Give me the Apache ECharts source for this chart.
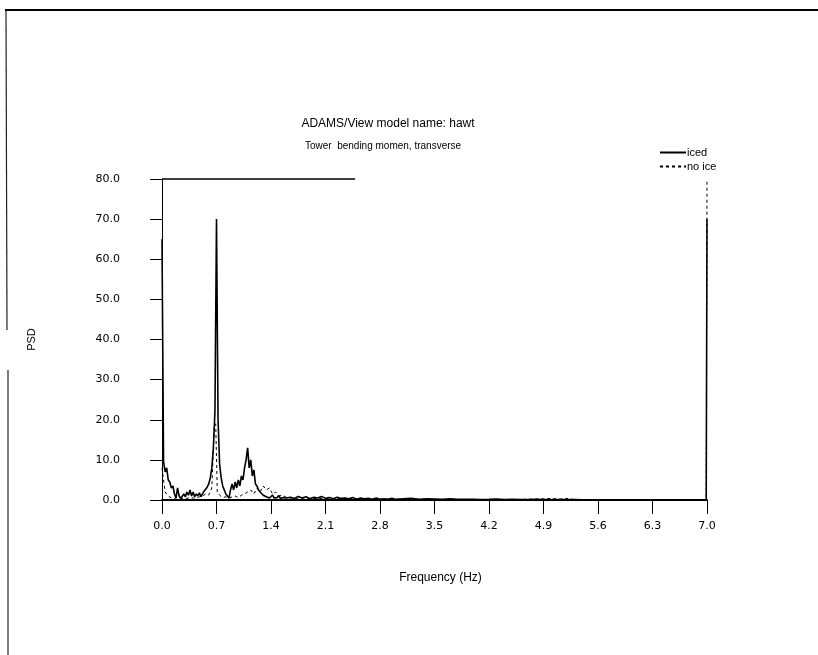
<!DOCTYPE html>
<html>
<head>
<meta charset="utf-8">
<script src="https://cdn.jsdelivr.net/npm/echarts@6/dist/echarts.min.js"></script>
<style>
html,body{margin:0;padding:0;background:#fff;}
#chart{width:818px;height:655px;}
</style>
</head>
<body>
<div id="chart"></div>
<script>
// ---- data ----
const xTicks = ['0.0','0.7','1.4','2.1','2.8','3.5','4.2','4.9','5.6','6.3','7.0'];
const yTicks = ['0.0','10.0','20.0','30.0','40.0','50.0','60.0','70.0','80.0'];

const icedFreq = [
  0.00,0.02,0.04,0.06,0.08,0.10,0.12,0.14,0.16,0.18,0.20,0.22,0.24,0.26,0.28,0.30,0.32,0.34,0.36,0.38,
  0.40,0.42,0.44,0.46,0.48,0.50,0.52,0.54,0.56,0.58,0.60,0.62,0.64,0.66,0.68,0.70,0.72,0.74,0.76,0.78,
  0.80,0.82,0.84,0.86,0.88,0.90,0.92,0.94,0.96,0.98,1.00,1.02,1.04,1.06,1.08,1.10,1.12,1.14,1.16,1.18,
  1.20,1.22,1.24,1.26,1.28,1.30,1.32,1.34,1.36,1.38,1.40,1.42,1.44,1.46,1.48,1.50,1.52,1.54,1.56,1.58,1.60,
  1.65,1.70,1.75,1.80,1.85,1.90,1.95,2.00,2.05,2.10,2.15,2.20,2.25,2.30,2.35,2.40,2.45,2.50,2.55,2.60,
  2.65,2.70,2.75,2.80,2.85,2.90,2.95,3.00,
  3.1,3.2,3.3,3.4,3.5,3.6,3.7,3.8,3.9,4.0,4.1,4.2,4.3,4.4,4.5,4.6,4.7,4.8,4.9,5.0,
  5.1,5.2,5.3,5.4,5.5,5.6,5.7,5.8,5.9,6.0,6.1,6.2,6.3,6.4,6.5,6.6,6.7,6.8,6.9,6.99,7.0
];
const icedPsd = [
  65,9.5,7,8,5,4.5,3,3.5,1.5,0.5,3,1,0.4,0.8,1.5,0.8,2,1.2,2.5,1,
  2,0.8,1.5,1,1.8,0.8,1.5,2.2,2.5,3.2,4,5.5,8,13,22,70,20,9,5.5,3.5,
  2.5,1.5,1,0.5,2.5,4,2.5,4.5,3,5,3.5,6,5,8,10,13,8,10,6,7.5,
  4,3.5,2.5,2,1.8,1.2,1.5,0.8,1,0.5,0.8,1.2,0.5,0.9,0.6,1.1,0.4,0.8,0.6,1.0,0.5,
  0.7,0.4,0.9,0.5,0.8,0.3,0.7,0.5,0.9,0.4,0.6,0.3,0.7,0.4,0.5,0.3,0.6,0.2,0.5,0.3,
  0.4,0.2,0.5,0.2,0.3,0.2,0.4,0.2,
  0.3,0.4,0.2,0.3,0.25,0.15,0.3,0.2,0.15,0.2,0.1,0.15,0.25,0.1,0.15,0.1,0.1,0.15,0.1,0.1,
  0.1,0.1,0.1,0.05,0.05,0.05,0.05,0.05,0.05,0.05,0.05,0.05,0.05,0.05,0.05,0.05,0.05,0.05,0.05,0.05,70
];

const noIceFreq = [
  0.00,0.04,0.08,0.12,0.16,0.20,0.24,0.28,0.32,0.36,0.40,0.44,0.48,0.52,0.56,0.60,0.64,0.67,0.69,0.71,
  0.74,0.78,0.82,0.86,0.90,0.94,0.98,1.02,1.06,1.10,1.14,1.18,1.22,1.26,1.30,1.34,1.38,1.42,1.46,1.50,
  1.55,1.60,1.7,1.8,1.9,2.0,2.2,2.4,2.6,2.8,3.0,3.5,4.0,4.5,4.9,5.0,5.1,5.2,5.3,5.5,6.0,6.5,6.99,7.0
];
const noIcePsd = [
  8,2,1,0.5,0.4,0.6,0.3,0.5,0.4,0.6,0.5,0.4,0.8,1.0,1.5,1.2,3,18,19,2,
  1.2,0.6,0.8,0.4,0.8,1.0,0.6,1.2,1.5,2,2.5,1.5,3,2,3.5,2.5,3,1.5,2,1,
  1.2,0.6,0.4,0.5,0.3,0.4,0.3,0.3,0.2,0.2,0.2,0.1,0.1,0.1,0.3,0.4,0.2,0.4,0.1,0.1,0.1,0.1,0.1,80
];

const seriesNames = ['iced','no ice'];
const titleText = 'ADAMS/View model name: hawt';
const subText = 'Tower  bending momen, transverse';

// ---- chart ----
const zip = (a, b) => a.map((v, i) => [v, b[i]]);
const chart = echarts.init(document.getElementById('chart'), null, {renderer: 'canvas'});
const font = 'Liberation Sans, Arial, sans-serif';
const tickFont = 'DejaVu Sans, sans-serif';

chart.setOption({
  animation: false,
  backgroundColor: '#fff',
  title: [
    {text: titleText, left: 383, top: 113, textAlign: 'center',
     textStyle: {fontSize: 12, fontWeight: 'normal', color: '#000', fontFamily: font}},
    {text: subText, left: 378, top: 136, textAlign: 'center',
     textStyle: {fontSize: 10, fontWeight: 'normal', color: '#000', fontFamily: font}}
  ],
  legend: {
    data: seriesNames,
    orient: 'vertical',
    left: 654, top: 142,
    itemWidth: 26, itemHeight: 8, itemGap: 3,
    itemStyle: {opacity: 0},
    textStyle: {fontSize: 11, color: '#000', fontFamily: font, padding: [0,0,0,-4]}
  },
  grid: {left: 162, right: 111, top: 179, bottom: 155},
  xAxis: {
    type: 'value', min: 0, max: 7, interval: 0.7,
    name: 'Frequency (Hz)', nameLocation: 'middle', nameGap: 72,
    nameTextStyle: {fontSize: 12, color: '#000', fontFamily: font, padding: [0,0,0,12]},
    axisLine: {show: true, lineStyle: {color: '#000', width: 2}},
    axisTick: {show: true, length: 14, lineStyle: {color: '#000', width: 1}},
    axisLabel: {fontSize: 11, color: '#000', fontFamily: tickFont, margin: 21,
      formatter: (v) => xTicks[Math.round(v / 0.7)] || v.toFixed(1)},
    splitLine: {show: false}
  },
  yAxis: {
    type: 'value', min: 0, max: 80, interval: 10,
    name: 'PSD', nameLocation: 'middle', nameGap: 125,
    nameTextStyle: {fontSize: 11, color: '#000', fontFamily: font},
    axisLine: {show: true, lineStyle: {color: '#000', width: 1}},
    axisTick: {show: true, length: 12, lineStyle: {color: '#000', width: 1}},
    axisLabel: {fontSize: 11, color: '#000', fontFamily: tickFont, margin: 42,
      formatter: (v) => yTicks[Math.round(v / 10)]},
    splitLine: {show: false}
  },
  series: [
    {
      name: seriesNames[1], type: 'line', symbol: 'none', showSymbol: false,
      data: zip(noIceFreq, noIcePsd),
      lineStyle: {color: '#000', width: 1, type: [3, 3]},
      itemStyle: {color: '#000'}, z: 2
    },
    {
      name: seriesNames[0], type: 'line', symbol: 'none', showSymbol: false,
      data: zip(icedFreq, icedPsd),
      lineStyle: {color: '#000', width: 1.6},
      itemStyle: {color: '#000'}, z: 3,
      markLine: {
        silent: true, symbol: 'none', label: {show: false},
        lineStyle: {color: '#000', width: 1.5, type: 'solid'},
        data: [[{coord: [0, 80]}, {coord: [2.48, 80]}]]
      }
    }
  ],
  graphic: [
    {type: 'line', shape: {x1: 5, y1: 10, x2: 818, y2: 10}, style: {stroke: '#000', lineWidth: 2}},
    {type: 'line', shape: {x1: 6, y1: 10, x2: 7, y2: 330}, style: {stroke: '#222', lineWidth: 1.2}},
    {type: 'line', shape: {x1: 8, y1: 370, x2: 8, y2: 655}, style: {stroke: '#222', lineWidth: 1.2}}
  ]
});
</script>
</body>
</html>
